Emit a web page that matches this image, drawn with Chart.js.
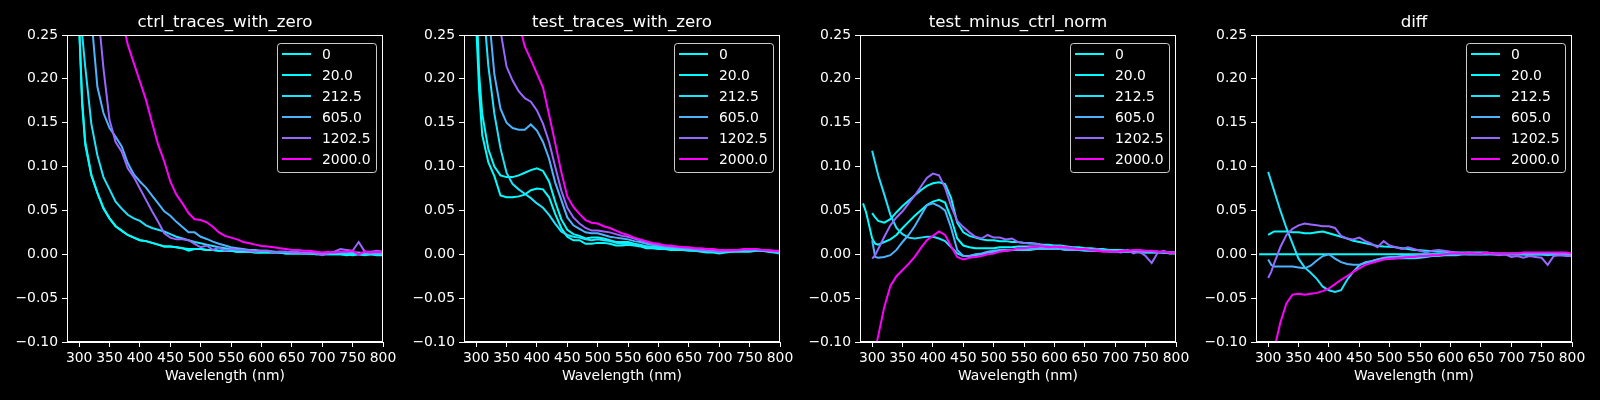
<!DOCTYPE html>
<html>
<head>
<meta charset="utf-8">
<script src="https://cdn.jsdelivr.net/npm/chart.js@4.4.1/dist/chart.umd.min.js"></script>
<style>
  body { margin: 0; background: #000; width: 1600px; height: 400px; overflow: hidden; position: relative; }
  canvas { position: absolute; top: 0; }
</style>
</head>
<body>
<canvas id="c0" width="396" height="400" style="left:1px"></canvas>
<canvas id="c1" width="396" height="400" style="left:398px"></canvas>
<canvas id="c2" width="396" height="400" style="left:794px"></canvas>
<canvas id="c3" width="396" height="400" style="left:1190px"></canvas>
<script>
// wavelength grid (nm): 285-310, then every 10 nm up to 800
const wavelengths = [
  285, 290, 300, 305, 310,
  320, 330, 340, 350, 360, 370, 380, 390, 400,
  410, 420, 430, 440, 450, 460, 470, 480, 490, 500,
  510, 520, 530, 540, 550, 560, 570, 580, 590, 600,
  610, 620, 630, 640, 650, 660, 670, 680, 690, 700,
  710, 720, 730, 740, 750, 760, 770, 780, 790, 800
]
const doseLabels = ['0', '20.0', '212.5', '605.0', '1202.5', '2000.0']
const panelTitles = ['ctrl_traces_with_zero', 'test_traces_with_zero', 'test_minus_ctrl_norm', 'diff']
const xTickStep = 50
const yTickStep = 0.05

// ---- ctrl_traces_with_zero
const ctrl0 = [
  null, null, 0.26, 0.17, 0.125,
  0.09, 0.07, 0.052, 0.041, 0.032, 0.027, 0.022, 0.019, 0.016,
  0.015, 0.013, 0.011, 0.009, 0.009, 0.008, 0.007, 0.006, 0.006, 0.006,
  0.005, 0.005, 0.004, 0.004, 0.004, 0.003, 0.003, 0.003, 0.002, 0.002,
  0.002, 0.002, 0.002, 0.001, 0.001, 0.001, 0.001, 0.001, 0.000, 0.000,
  0.000, 0.000, 0.000, -0.001, 0.000, 0.000, -0.001, 0.000, 0.000, -0.001
]
const ctrl20 = [
  null, null, 0.26, 0.175, 0.128,
  0.091, 0.07, 0.053, 0.041, 0.032, 0.027, 0.022, 0.019, 0.016,
  0.015, 0.013, 0.011, 0.009, 0.009, 0.008, 0.007, 0.004, 0.006, 0.006,
  0.005, 0.005, 0.004, 0.004, 0.004, 0.003, 0.003, 0.003, 0.002, 0.002,
  0.002, 0.002, 0.002, 0.001, 0.001, 0.001, 0.001, 0.001, 0.000, 0.000,
  0.000, 0.000, 0.000, 0.000, -0.001, 0.000, 0.000, 0.000, -0.001, -0.001
]
const ctrl212 = [
  null, null, 0.30, 0.25, 0.214,
  0.149, 0.113, 0.088, 0.074, 0.060, 0.052, 0.045, 0.041, 0.038,
  0.033, 0.030, 0.028, 0.026, 0.023, 0.020, 0.018, 0.016, 0.014, 0.0125,
  0.011, 0.0095, 0.008, 0.007, 0.006, 0.005, 0.005, 0.004, 0.004, 0.003,
  0.003, 0.003, 0.002, 0.002, 0.002, 0.002, 0.001, 0.001, 0.001, 0.001,
  0.001, 0.001, 0.001, 0.001, 0.001, 0.000, 0.000, 0.000, 0.000, 0.000
]
const ctrl605 = [
  null, null, 0.38, 0.35, 0.32,
  0.27, 0.191, 0.161, 0.144, 0.134, 0.123, 0.104, 0.091, 0.083,
  0.076, 0.067, 0.058, 0.049, 0.044, 0.037, 0.031, 0.025, 0.025, 0.020,
  0.0175, 0.0145, 0.012, 0.010, 0.008, 0.007, 0.006, 0.005, 0.005, 0.004,
  0.004, 0.003, 0.003, 0.003, 0.002, 0.002, 0.002, 0.002, 0.001, 0.001,
  0.001, 0.002, 0.002, 0.002, 0.002, 0.002, 0.001, 0.001, 0.001, 0.001
]
const ctrl1202 = [
  null, null, 0.45, 0.42, 0.38,
  0.32, 0.285, 0.212, 0.153, 0.128, 0.117, 0.098, 0.088, 0.075,
  0.062, 0.049, 0.037, 0.024, 0.019, 0.017, 0.017, 0.016, 0.012, 0.008,
  0.010, 0.005, 0.008, 0.004, 0.006, 0.005, 0.005, 0.004, 0.003, 0.004,
  0.004, 0.002, 0.003, 0.003, 0.002, 0.002, 0.001, 0.002, 0.001, -0.001,
  0.001, 0.003, 0.006, 0.005, 0.004, 0.014, 0.003, 0.003, 0.004, 0.003
]
const ctrl2000 = [
  null, null, 0.58, 0.55, 0.52,
  0.47, 0.42, 0.38, 0.34, 0.30, 0.27, 0.239, 0.218, 0.197,
  0.176, 0.150, 0.125, 0.106, 0.083, 0.068, 0.058, 0.047, 0.040, 0.039,
  0.0365, 0.0315, 0.025, 0.021, 0.019, 0.017, 0.014, 0.0125, 0.011, 0.0095,
  0.009, 0.008, 0.007, 0.006, 0.005, 0.005, 0.004, 0.004, 0.003, 0.002,
  0.003, 0.002, 0.003, 0.003, 0.004, 0.000, 0.003, 0.002, 0.003, 0.002
]

// ---- test_traces_with_zero
const test0 = [
  null, null, 0.262, 0.185, 0.136,
  0.105, 0.089, 0.067, 0.065, 0.065, 0.066, 0.068, 0.073, 0.075,
  0.074, 0.065, 0.046, 0.030, 0.020, 0.016, 0.016, 0.012, 0.012, 0.013,
  0.013, 0.012, 0.010, 0.010, 0.011, 0.010, 0.009, 0.007, 0.007, 0.006,
  0.006, 0.005, 0.005, 0.005, 0.004, 0.004, 0.003, 0.002, 0.002, 0.001,
  0.002, 0.003, 0.003, 0.003, 0.003, 0.004, 0.004, 0.003, 0.002, 0.001
]
const test20 = [
  null, null, 0.30, 0.205, 0.160,
  0.120, 0.100, 0.090, 0.088, 0.088, 0.090, 0.093, 0.096, 0.098,
  0.095, 0.083, 0.060, 0.040, 0.028, 0.023, 0.021, 0.018, 0.019, 0.019,
  0.018, 0.016, 0.014, 0.014, 0.014, 0.012, 0.011, 0.009, 0.009, 0.008,
  0.007, 0.007, 0.006, 0.006, 0.005, 0.005, 0.004, 0.003, 0.003, 0.002,
  0.003, 0.004, 0.004, 0.004, 0.004, 0.005, 0.004, 0.004, 0.003, 0.002
]
const test212 = [
  null, null, 0.40, 0.35, 0.30,
  0.215, 0.16, 0.121, 0.093, 0.080, 0.074, 0.069, 0.064, 0.058,
  0.053, 0.045, 0.035, 0.026, 0.022, 0.020, 0.019, 0.017, 0.016, 0.017,
  0.016, 0.015, 0.013, 0.012, 0.012, 0.011, 0.010, 0.009, 0.008, 0.008,
  0.007, 0.006, 0.006, 0.005, 0.005, 0.004, 0.004, 0.003, 0.003, 0.002,
  0.003, 0.003, 0.004, 0.004, 0.004, 0.005, 0.004, 0.004, 0.003, 0.002
]
const test605 = [
  null, null, 0.45, 0.40, 0.36,
  0.28, 0.205, 0.166, 0.150, 0.144, 0.142, 0.142, 0.148, 0.141,
  0.128, 0.109, 0.082, 0.062, 0.042, 0.033, 0.029, 0.025, 0.024, 0.024,
  0.022, 0.020, 0.019, 0.018, 0.017, 0.015, 0.014, 0.012, 0.011, 0.010,
  0.009, 0.008, 0.008, 0.007, 0.006, 0.006, 0.005, 0.004, 0.004, 0.003,
  0.004, 0.004, 0.004, 0.005, 0.005, 0.005, 0.005, 0.004, 0.003, 0.002
]
const test1202 = [
  null, null, 0.55, 0.50, 0.45,
  0.38, 0.32, 0.255, 0.214, 0.198, 0.186, 0.178, 0.174, 0.164,
  0.149, 0.128, 0.100, 0.073, 0.053, 0.042, 0.035, 0.030, 0.027, 0.027,
  0.026, 0.025, 0.023, 0.021, 0.020, 0.018, 0.016, 0.014, 0.012, 0.011,
  0.010, 0.009, 0.008, 0.008, 0.007, 0.006, 0.005, 0.005, 0.004, 0.003,
  0.004, 0.004, 0.005, 0.005, 0.005, 0.006, 0.005, 0.004, 0.004, 0.003
]
const test2000 = [
  null, null, 0.65, 0.62, 0.58,
  0.52, 0.46, 0.40, 0.35, 0.31, 0.265, 0.237, 0.222, 0.206,
  0.190, 0.159, 0.127, 0.094, 0.066, 0.054, 0.046, 0.039, 0.036, 0.035,
  0.032, 0.030, 0.027, 0.024, 0.022, 0.019, 0.017, 0.015, 0.013, 0.012,
  0.010, 0.010, 0.009, 0.008, 0.008, 0.007, 0.007, 0.006, 0.006, 0.005,
  0.005, 0.005, 0.005, 0.006, 0.006, 0.006, 0.005, 0.005, 0.004, 0.004
]

// ---- test_minus_ctrl_norm
const norm0 = [
  0.058, 0.048, 0.018, 0.012, 0.011,
  0.014, 0.017, 0.022, 0.030, 0.037, 0.044, 0.050, 0.056, 0.060,
  0.062, 0.059, 0.041, 0.018, 0.010, 0.008, 0.007, 0.007, 0.007, 0.007,
  0.008, 0.008, 0.008, 0.009, 0.009, 0.009, 0.009, 0.008, 0.008, 0.008,
  0.008, 0.007, 0.007, 0.006, 0.006, 0.005, 0.005, 0.005, 0.004, 0.004,
  0.004, 0.004, 0.003, 0.003, 0.003, 0.003, 0.003, 0.002, 0.002, 0.002
]
const norm20 = [
  null, null, 0.047, 0.042, 0.038,
  0.036, 0.040, 0.048, 0.055, 0.061, 0.067, 0.073, 0.078, 0.081,
  0.082, 0.080, 0.064, 0.036, 0.025, 0.021, 0.019, 0.017, 0.016, 0.016,
  0.015, 0.015, 0.014, 0.014, 0.013, 0.013, 0.012, 0.011, 0.011, 0.010,
  0.010, 0.009, 0.008, 0.008, 0.007, 0.007, 0.006, 0.006, 0.005, 0.005,
  0.005, 0.004, 0.004, 0.004, 0.003, 0.003, 0.003, 0.002, 0.002, 0.002
]
const norm212 = [
  null, null, 0.118, 0.104, 0.090,
  0.068, 0.045, 0.030, 0.023, 0.019, 0.018, 0.019, 0.020, 0.020,
  0.018, 0.015, 0.008, 0.001, -0.002, -0.002, -0.001, 0.000, 0.002, 0.003,
  0.004, 0.004, 0.005, 0.005, 0.005, 0.005, 0.006, 0.006, 0.006, 0.006,
  0.006, 0.005, 0.005, 0.005, 0.004, 0.004, 0.004, 0.004, 0.003, 0.003,
  0.003, 0.003, 0.003, 0.002, 0.002, 0.002, 0.002, 0.002, 0.001, 0.001
]
const norm605 = [
  null, null, 0.016, -0.003, -0.004,
  -0.003, -0.001, 0.005, 0.014, 0.022, 0.032, 0.044, 0.056, 0.058,
  0.055, 0.050, 0.030, 0.005, -0.002, -0.002, 0.000, 0.001, 0.003, 0.004,
  0.005, 0.005, 0.005, 0.005, 0.006, 0.006, 0.006, 0.006, 0.006, 0.006,
  0.006, 0.005, 0.005, 0.005, 0.005, 0.004, 0.004, 0.004, 0.004, 0.003,
  0.003, 0.003, 0.003, 0.003, 0.002, 0.002, 0.002, 0.002, 0.002, 0.001
]
const norm1202 = [
  null, null, -0.005, -0.001, 0.006,
  0.020, 0.033, 0.042, 0.049, 0.058, 0.067, 0.077, 0.087, 0.092,
  0.090, 0.076, 0.055, 0.038, 0.031, 0.025, 0.020, 0.018, 0.022, 0.019,
  0.019, 0.017, 0.018, 0.014, 0.013, 0.012, 0.012, 0.010, 0.009, 0.008,
  0.009, 0.007, 0.007, 0.006, 0.006, 0.005, 0.006, 0.004, 0.004, 0.003,
  0.002, 0.005, 0.001, 0.003, -0.002, -0.010, 0.002, 0.004, 0.001, 0.002
]
const norm2000 = [
  null, null, -0.125, -0.108, -0.093,
  -0.060, -0.036, -0.025, -0.018, -0.011, -0.003, 0.007, 0.016, 0.021,
  0.026, 0.022, 0.009, -0.003, -0.006, -0.004, -0.003, -0.002, 0.000, 0.001,
  0.003, 0.004, 0.005, 0.007, 0.007, 0.008, 0.009, 0.009, 0.008, 0.009,
  0.008, 0.008, 0.007, 0.006, 0.006, 0.005, 0.004, 0.003, 0.003, 0.003,
  0.004, 0.004, 0.005, 0.005, 0.004, 0.004, 0.003, 0.003, 0.002, 0.002
]

// ---- diff
const diff0 = [
  0, 0, 0, 0, 0,
  0, 0, 0, 0, 0, 0, 0, 0, 0,
  0, 0, 0, 0, 0, 0, 0, 0, 0, 0,
  0, 0, 0, 0, 0, 0, 0, 0, 0, 0,
  0, 0, 0, 0, 0, 0, 0, 0, 0, 0,
  0, 0, 0, 0, 0, 0, 0, 0, 0, 0
]
const diff20 = [
  null, null, 0.022, 0.024, 0.026,
  0.026, 0.026, 0.025, 0.025, 0.024, 0.024, 0.025, 0.026, 0.024,
  0.022, 0.020, 0.018, 0.0155, 0.014, 0.0125, 0.011, 0.0095, 0.009, 0.0087,
  0.008, 0.007, 0.006, 0.005, 0.0045, 0.004, 0.0035, 0.003, 0.003, 0.002,
  0.002, 0.002, 0.002, 0.002, 0.002, 0.002, 0.001, 0.001, 0.001, 0.001,
  0.001, 0.001, 0.001, 0.000, 0.000, 0.000, 0.000, 0.000, 0.000, 0.000
]
const diff212 = [
  null, null, 0.094, 0.083, 0.072,
  0.050, 0.030, 0.0125, -0.005, -0.015, -0.021, -0.028, -0.037, -0.041,
  -0.043, -0.041, -0.029, -0.020, -0.0125, -0.009, -0.008, -0.006, -0.005, -0.005,
  -0.0045, -0.0045, -0.0045, -0.0045, -0.004, -0.003, -0.002, -0.002, -0.001, -0.001,
  -0.001, 0.000, 0.000, 0.000, 0.000, 0.000, 0.000, 0.000, 0.000, 0.000,
  0.000, 0.000, -0.001, 0.000, 0.000, -0.001, 0.000, 0.000, -0.001, -0.001
]
const diff605 = [
  null, null, -0.006, -0.012, -0.014,
  -0.014, -0.014, -0.014, -0.015, -0.016, -0.013, -0.007, -0.002, 0.000,
  -0.005, -0.009, -0.011, -0.012, -0.012, -0.010, -0.008, -0.006, -0.004, -0.003,
  -0.003, -0.002, -0.002, -0.001, -0.001, -0.001, 0.000, 0.000, 0.000, 0.000,
  0.000, 0.001, 0.000, 0.000, 0.000, 0.000, 0.001, 0.000, 0.000, 0.000,
  0.000, 0.000, 0.000, 0.000, 0.000, 0.000, 0.000, 0.000, 0.000, 0.000
]
const diff1202 = [
  null, null, -0.027, -0.020, -0.010,
  0.008, 0.022, 0.029, 0.033, 0.035, 0.034, 0.033, 0.032, 0.032,
  0.030, 0.021, 0.018, 0.017, 0.019, 0.015, 0.012, 0.008, 0.015, 0.010,
  0.008, 0.006, 0.008, 0.006, 0.004, 0.002, 0.004, 0.005, 0.004, 0.003,
  0.002, 0.001, 0.002, 0.001, 0.000, 0.001, 0.000, -0.001, 0.000, -0.003,
  -0.002, -0.004, -0.002, -0.003, -0.004, -0.012, -0.002, -0.001, -0.002, -0.002
]
const diff2000 = [
  null, null, -0.13, -0.12, -0.108,
  -0.078, -0.056, -0.046, -0.045, -0.046, -0.045, -0.044, -0.042, -0.039,
  -0.034, -0.029, -0.025, -0.020, -0.016, -0.012, -0.010, -0.008, -0.006, -0.005,
  -0.0045, -0.004, -0.003, -0.003, -0.002, -0.002, -0.001, -0.001, 0.000, 0.001,
  0.001, 0.001, 0.001, 0.001, 0.001, 0.002, 0.001, 0.001, 0.001, 0.001,
  0.001, 0.002, 0.002, 0.002, 0.002, 0.002, 0.002, 0.002, 0.002, 0.001
]

const panelSeries = [
  [ctrl0, ctrl20, ctrl212, ctrl605, ctrl1202, ctrl2000],
  [test0, test20, test212, test605, test1202, test2000],
  [norm0, norm20, norm212, norm605, norm1202, norm2000],
  [diff0, diff20, diff212, diff605, diff1202, diff2000],
]

// matplotlib "cool" colours for dose / 2000
const lineColors = ['#00ffff', '#03fcff', '#1be4ff', '#4db2ff', '#9966ff', '#ff00ff']

Chart.defaults.font.family = '"DejaVu Sans", sans-serif'
Chart.defaults.font.size = 13.9
Chart.defaults.color = '#ffffff'

// top/right spines
const framePlugin = {
  id: 'frame',
  afterDatasetsDraw: (chart) => {
    const {ctx, chartArea: a} = chart
    ctx.save()
    ctx.strokeStyle = '#ffffff'
    ctx.lineWidth = 1
    ctx.strokeRect(Math.round(a.left) + 0.5, Math.round(a.top) + 0.5,
      Math.round(a.right - a.left) - 1, Math.round(a.bottom - a.top) - 1)
    ctx.restore()
  }
}

// title centred over the plot area
const titlePlugin = {
  id: 'panelTitle',
  afterDraw: (chart, args, options) => {
    const {ctx, chartArea: a} = chart
    ctx.save()
    ctx.fillStyle = '#ffffff'
    ctx.font = '16.7px "DejaVu Sans"'
    ctx.textAlign = 'center'
    ctx.textBaseline = 'alphabetic'
    ctx.fillText(options.text, (a.left + a.right) / 2, 27)
    ctx.restore()
  }
}

// legend box in the upper right corner of the axes
const legendPlugin = {
  id: 'insetLegend',
  afterDraw: (chart) => {
    const {ctx, chartArea: a} = chart
    const items = chart.data.datasets
    ctx.save()
    ctx.font = '13.9px "DejaVu Sans"'
    const textW = Math.max(...items.map(d => ctx.measureText(d.label).width))
    const w = Math.round(45 + textW + 5), h = 129
    const x = Math.round(a.right - 7 - w), y = Math.round(a.top + 8)
    ctx.beginPath()
    ctx.roundRect(x + 0.5, y + 0.5, w, h, 3)
    ctx.fillStyle = 'rgba(0,0,0,0.8)'
    ctx.fill()
    ctx.strokeStyle = 'rgba(255,255,255,0.8)'
    ctx.lineWidth = 1
    ctx.stroke()
    items.forEach((d, i) => {
      const cy = y + 11 + 21 * i
      ctx.strokeStyle = d.borderColor
      ctx.lineWidth = 2
      ctx.beginPath()
      ctx.moveTo(x + 5, cy)
      ctx.lineTo(x + 34, cy)
      ctx.stroke()
      ctx.fillStyle = '#ffffff'
      ctx.textAlign = 'left'
      ctx.textBaseline = 'middle'
      ctx.fillText(d.label, x + 45, cy + 1)
    })
    ctx.restore()
  }
}

function yLabel(value) {
  if (Math.abs(value) < 1e-9) return '0.00'
  return (value < 0 ? '\u2212' : '') + Math.abs(value).toFixed(2)
}

const axisGrid = {drawOnChartArea: false, drawTicks: true, tickLength: 5, color: '#ffffff', lineWidth: 1}
const axisBorder = {display: true, color: '#ffffff', width: 1}

function makeChart(canvasId, title, series) {
  const datasets = series.map((values, i) => ({
    label: doseLabels[i],
    data: wavelengths.map((x, j) => ({x: x, y: values[j]})).filter(p => p.y !== null),
    borderColor: lineColors[i],
    backgroundColor: lineColors[i],
    borderWidth: 2,
    pointRadius: 0,
    tension: 0,
    fill: false,
    order: series.length - i   // later series drawn on top, like matplotlib
  }))

  return new Chart(document.getElementById(canvasId), {
    type: 'line',
    data: {datasets},
    plugins: [framePlugin, titlePlugin, legendPlugin],
    options: {
      responsive: false,
      animation: false,
      devicePixelRatio: 1,
      layout: {padding: {top: 35, right: 14, bottom: 0, left: 0}},
      plugins: {
        legend: {display: false},
        tooltip: {enabled: false},
        panelTitle: {text: title}
      },
      scales: {
        x: {
          type: 'linear',
          min: 280,
          max: 800,
          ticks: {stepSize: xTickStep, includeBounds: false, autoSkip: false, maxRotation: 0, minRotation: 0, padding: 3, color: '#ffffff'},
          grid: axisGrid,
          border: axisBorder,
          title: {display: true, text: 'Wavelength (nm)', color: '#ffffff', padding: {top: 4, bottom: 15}},
          afterFit: (scale) => { scale.height = 58; scale.paddingLeft = 0; scale.paddingRight = 0 }
        },
        y: {
          type: 'linear',
          min: -0.1,
          max: 0.25,
          ticks: {stepSize: yTickStep, padding: 4, color: '#ffffff', callback: yLabel},
          grid: axisGrid,
          border: axisBorder,
          afterFit: (scale) => { scale.width = 66; scale.paddingTop = 0; scale.paddingBottom = 0 }
        }
      }
    }
  })
}

panelTitles.forEach((t, i) => makeChart('c' + i, t, panelSeries[i]))
</script>
</body>
</html>
